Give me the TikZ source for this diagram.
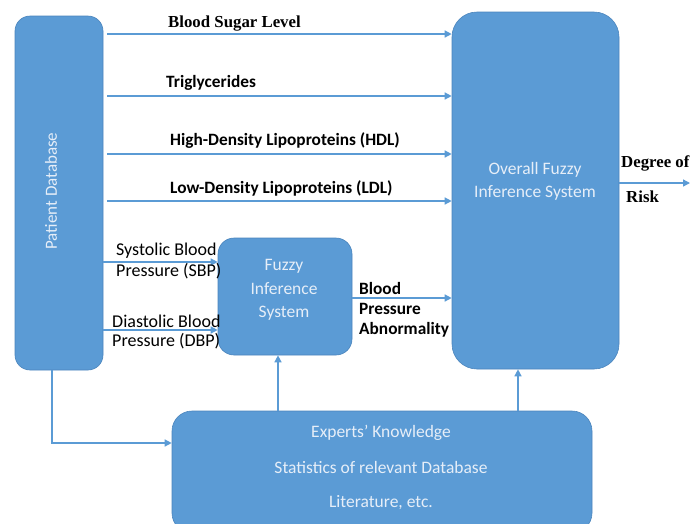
\documentclass[tikz,border=0pt]{standalone}
\usepackage{fontspec}
\setmainfont{Carlito}
\newfontfamily\tnr{Liberation Serif}
\usetikzlibrary{arrows.meta,calc}
\definecolor{boxblue}{HTML}{5B9BD5}
\definecolor{boxedge}{HTML}{4A84BC}
\definecolor{boxtext}{HTML}{E6EEF8}
\tikzset{
  blockbox/.style={draw=boxedge, line width=0.6pt, fill=boxblue, inner sep=0pt},
  flow/.style={draw=boxblue, line width=1.3pt, -{Triangle[length=7pt,width=7pt]}},
  intext/.style={text=boxtext, font=\fontsize{17.5}{20}\selectfont, inner sep=0pt},
  cal/.style={font=\fontsize{18}{20}\selectfont, inner sep=0pt, anchor=west},
  calb/.style={font=\bfseries\fontsize{17.3}{20}\selectfont, inner sep=0pt, anchor=west},
  tnrb/.style={font=\tnr\bfseries\fontsize{16.8}{19}\selectfont, inner sep=0pt, anchor=west},
}
\begin{document}
\begin{tikzpicture}[x=1pt,y=-1pt]
\useasboundingbox (0,0) rectangle (691,523);

% main blocks
\node[blockbox, rounded corners=15pt, minimum width=88pt, minimum height=354pt] (pdb) at (59,193) {};
\node[intext, rotate=90, font=\fontsize{17}{20}\selectfont] (pdbtxt) at (51,191) {Patient Database};

\node[blockbox, rounded corners=25pt, minimum width=167pt, minimum height=357pt] (ofis) at (535.5,190.5) {};
\node[intext, align=center] (ofistxt) at (535,181) {Overall Fuzzy\\[3pt]Inference System};

\node[blockbox, rounded corners=16pt, minimum width=134pt, minimum height=117pt] (fis) at (285,296.5) {};
\node[intext] (fis1) at (284,266) {Fuzzy};
\node[intext] (fis2) at (284,289) {Inference};
\node[intext] (fis3) at (284,313) {System};

\node[blockbox, rounded corners=20pt, minimum width=420pt, minimum height=122pt] (exp) at (382,472) {};
\node[intext] (exp1) at (381,433) {Experts’ Knowledge};
\node[intext] (exp2) at (381,467) {Statistics of relevant Database};
\node[intext] (exp3) at (381,503) {Literature, etc.};

% direct inputs to the overall system
\draw[flow, shorten <=4pt] (pdb.east |- 0,34) -- (ofis.west |- 0,34);
\draw[flow, shorten <=4pt] (pdb.east |- 0,96) -- (ofis.west |- 0,96);
\draw[flow, shorten <=4pt] (pdb.east |- 0,154) -- (ofis.west |- 0,154);
\draw[flow, shorten <=4pt] (pdb.east |- 0,201) -- (ofis.west |- 0,201);
\node[tnrb] (bsl) at (168,24) {Blood Sugar Level};
\node[calb] (tg) at (166,83) {Triglycerides};
\node[calb] (hdl) at (170,141) {High-Density Lipoproteins (HDL)};
\node[calb] (ldl) at (170,188) {Low-Density Lipoproteins (LDL)};

% blood pressure inputs
\draw[flow] (pdb.east |- 0,262) -- (fis.west |- 0,262);
\draw[flow] (pdb.east |- 0,330) -- (fis.west |- 0,330);
\node[cal] (sbp1) at (116,251) {Systolic Blood};
\node[cal] (sbp2) at (116,271) {Pressure (SBP)};
\node[cal] (dbp1) at (112,321) {Diastolic Blood};
\node[cal] (dbp2) at (112,341) {Pressure (DBP)};

% blood pressure abnormality
\draw[flow] (fis.east |- 0,298) -- (ofis.west |- 0,298);
\node[calb] (bpa1) at (359,288) {Blood};
\node[calb] (bpa2) at (359,309) {Pressure};
\node[calb] (bpa3) at (359,330) {Abnormality};

% output
\coordinate (riskend) at (690,183);
\draw[flow] (ofis.east |- riskend) -- (riskend);
\node[tnrb] (deg) at (621,163) {Degree of};
\node[tnrb] (risk) at (626,197) {Risk};

% knowledge feeds
\draw[flow] (exp.north -| 278,0) -- (fis.south -| 278,0);
\draw[flow] (exp.north -| 518,0) -- (ofis.south -| 518,0);
\draw[flow] (pdb.south -| 52,0) |- (exp.west |- 0,443);
\end{tikzpicture}
\end{document}
